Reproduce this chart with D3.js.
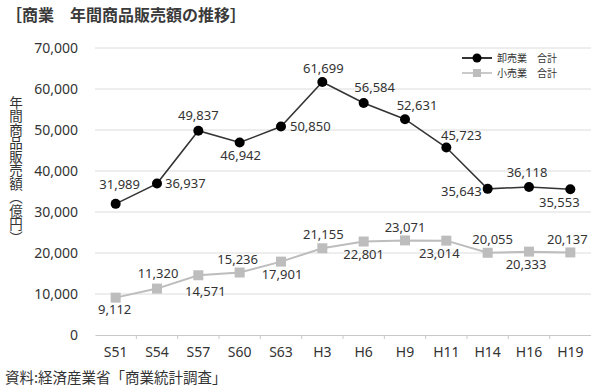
<!DOCTYPE html>
<html>
<head>
<meta charset="utf-8">
<script src="https://cdn.jsdelivr.net/npm/d3@7"></script>
<style>
  body { margin: 0; background: #fff; }
  svg { font-family: "Noto Sans CJK JP", "Noto Sans", sans-serif; }
</style>
</head>
<body>
<svg id="chart" width="591" height="389"></svg>
<script>
const years = ['S51', 'S54', 'S57', 'S60', 'S63', 'H3', 'H6', 'H9', 'H11', 'H14', 'H16', 'H19'];
const wholesale = [31989, 36937, 49837, 46942, 50850, 61699, 56584, 52631, 45723, 35643, 36118, 35553];
const retail = [9112, 11320, 14571, 15236, 17901, 21155, 22801, 23071, 23014, 20055, 20333, 20137];
const yTicks = [0, 10000, 20000, 30000, 40000, 50000, 60000, 70000];
const seriesNames = ['卸売業　合計', '小売業　合計'];

// where each value label sits relative to its point: [dx, dy, anchor]
const wholesaleLabelPos = [
  [4, -19, 'middle'], [8, 0, 'start'], [0, -15, 'middle'], [1, 13, 'middle'],
  [9, 0, 'start'], [1, -14, 'middle'], [11, -16, 'middle'], [12, -14, 'middle'],
  [15, -12, 'middle'], [-6, 3, 'end'], [-2, -14, 'middle'], [-11, 13, 'middle']
];
const retailLabelPos = [
  [-1, 12, 'middle'], [1, -15, 'middle'], [7, 16, 'middle'], [-2, -13, 'middle'],
  [1, 13, 'middle'], [1, -14, 'middle'], [0, 13, 'middle'], [0, -13, 'middle'],
  [-7, 13, 'middle'], [5, -13, 'middle'], [-3, 13, 'middle'], [-3, -13, 'middle']
];

let svg = d3.select('#chart');
let padL = 95, padR = 591, padT = 48, padB = 335;

let x = d3.scaleBand().domain(years).range([padL, padR]);
let y = d3.scaleLinear().domain([0, 70000]).range([padB, padT]);
let fmt = d3.format(',');
let cx = (d) => x(d) + x.bandwidth() / 2;

// title
svg.append('text')
  .attr('x', 6).attr('y', 21)
  .attr('font-size', 16).attr('font-weight', 'bold').attr('fill', '#3a3a3a')
  .text('［商業　年間商品販売額の推移］');

// gridlines
svg.append('g').selectAll('line')
  .data(yTicks.filter(d => d > 0))
  .join('line')
  .attr('x1', padL).attr('x2', padR)
  .attr('y1', d => y(d)).attr('y2', d => y(d))
  .attr('stroke', '#dcdcdc').attr('stroke-width', 1);

// y axis labels
let yAxis = d3.axisLeft(y).tickValues(yTicks).tickFormat(fmt).tickSize(0).tickPadding(0);
let gy = svg.append('g')
  .attr('transform', `translate(78,0)`)
  .call(yAxis);
gy.select('.domain').remove();
gy.selectAll('text').attr('font-size', 14).attr('fill', '#333')
  .attr('font-family', '"Noto Sans", sans-serif');

// x axis
let xAxis = d3.axisBottom(x).tickSize(0).tickPadding(12);
let gx = svg.append('g')
  .attr('transform', `translate(0,${padB})`)
  .call(xAxis);
gx.select('.domain').attr('stroke', '#c8c8c8');
gx.selectAll('text').attr('font-size', 14).attr('fill', '#333')
  .attr('font-family', '"Noto Sans", sans-serif');

// small tick marks between categories
svg.append('g').selectAll('line')
  .data(years.slice(1))
  .join('line')
  .attr('x1', d => x(d)).attr('x2', d => x(d))
  .attr('y1', padB).attr('y2', padB + 4)
  .attr('stroke', '#c8c8c8');

// y axis title (vertical)
svg.append('text')
  .attr('x', 16).attr('y', 170)
  .attr('font-size', 13.5).attr('fill', '#333')
  .attr('text-anchor', 'middle')
  .style('writing-mode', 'vertical-rl')
  .style('text-orientation', 'upright')
  .text('年間商品販売額（億円）');

// retail line
let line = d3.line().x((d, i) => cx(years[i])).y(d => y(d));

svg.append('path')
  .datum(retail)
  .attr('fill', 'none')
  .attr('stroke', '#bdbdbd')
  .attr('stroke-width', 2)
  .attr('d', line);

svg.append('g').selectAll('rect')
  .data(retail)
  .join('rect')
  .attr('x', (d, i) => cx(years[i]) - 5)
  .attr('y', d => y(d) - 5)
  .attr('width', 10).attr('height', 10)
  .attr('fill', '#bdbdbd');

// wholesale line
svg.append('path')
  .datum(wholesale)
  .attr('fill', 'none')
  .attr('stroke', '#333')
  .attr('stroke-width', 1.5)
  .attr('d', line);

svg.append('g').selectAll('circle')
  .data(wholesale)
  .join('circle')
  .attr('cx', (d, i) => cx(years[i]))
  .attr('cy', d => y(d))
  .attr('r', 5)
  .attr('fill', '#000');

// value labels
function addLabels(values, pos) {
  svg.append('g').selectAll('text')
    .data(values)
    .join('text')
    .attr('x', (d, i) => cx(years[i]) + pos[i][0])
    .attr('y', (d, i) => y(d) + pos[i][1])
    .attr('dy', '0.35em')
    .attr('text-anchor', (d, i) => pos[i][2])
    .attr('font-size', 13)
    .attr('font-family', '"Noto Sans", sans-serif')
    .attr('fill', '#333')
    .text(d => fmt(d));
}
addLabels(wholesale, wholesaleLabelPos);
addLabels(retail, retailLabelPos);

// legend
let legend = svg.append('g');
legend.append('line')
  .attr('x1', 462).attr('x2', 492).attr('y1', 58).attr('y2', 58)
  .attr('stroke', '#000').attr('stroke-width', 1.6);
legend.append('circle').attr('cx', 477).attr('cy', 58).attr('r', 4.5).attr('fill', '#000');
legend.append('line')
  .attr('x1', 462).attr('x2', 492).attr('y1', 73).attr('y2', 73)
  .attr('stroke', '#bdbdbd').attr('stroke-width', 1.6);
legend.append('rect').attr('x', 473).attr('y', 69).attr('width', 8).attr('height', 8).attr('fill', '#bdbdbd');
legend.selectAll('text')
  .data(seriesNames)
  .join('text')
  .attr('x', 497)
  .attr('y', (d, i) => 58 + i * 15)
  .attr('dy', '0.35em')
  .attr('font-size', 10)
  .attr('fill', '#333')
  .text(d => d);

// source
svg.append('text')
  .attr('x', 5).attr('y', 383)
  .attr('font-size', 14.5).attr('fill', '#333')
  .text('資料:経済産業省「商業統計調査」');
</script>
</body>
</html>
